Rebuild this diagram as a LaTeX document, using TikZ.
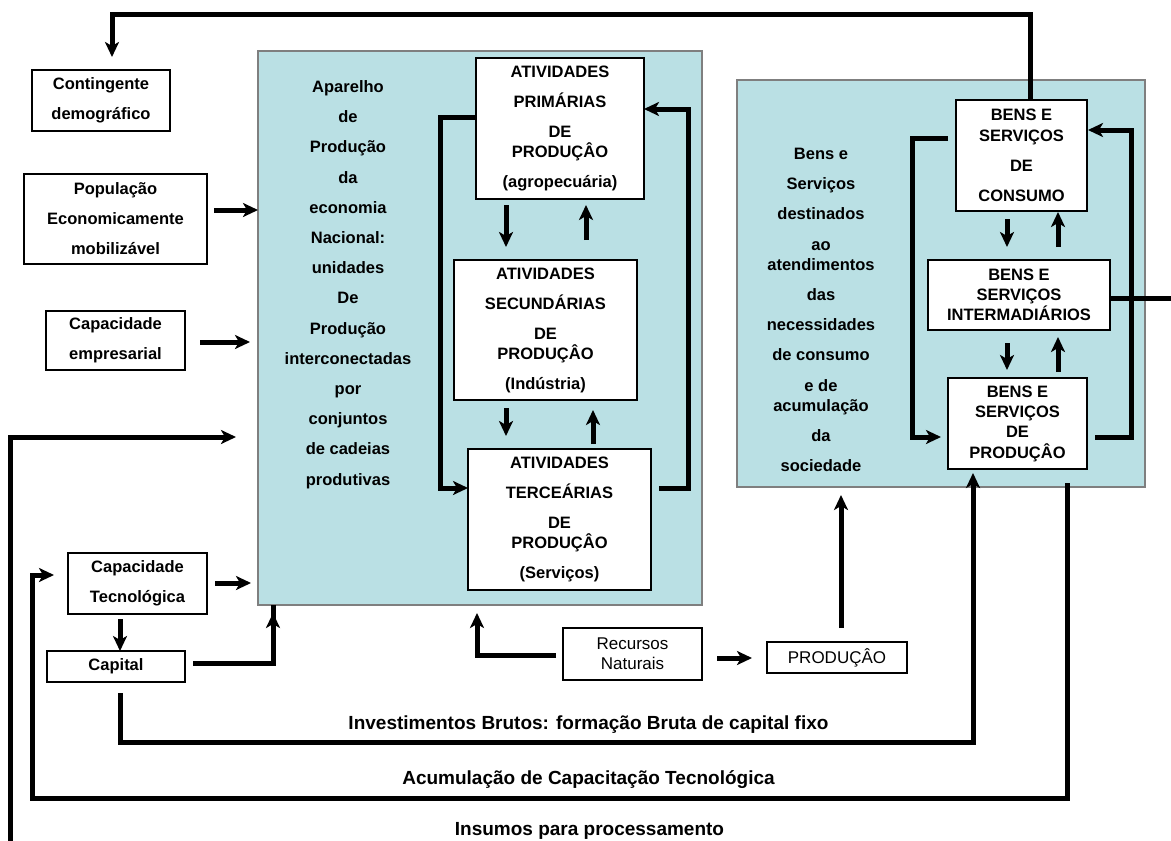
\documentclass[tikz,border=0pt]{standalone}
\usepackage{fontspec}
\setmainfont{Liberation Sans}
\usetikzlibrary{arrows.meta,calc}
\definecolor{panel}{HTML}{BAE0E4}
\definecolor{panelborder}{HTML}{7F7F7F}
\begin{document}
\begin{tikzpicture}[x=1pt,y=-1pt,
  box/.style={draw=black, line width=1.2pt, fill=white, inner sep=0pt, outer sep=0pt, align=center, font=\bfseries\fontsize{16.5}{30}\selectfont},
  tightbox/.style={box, font=\bfseries\fontsize{16.5}{20.3}\selectfont},
  regbox/.style={box, font=\fontsize{17}{20}\selectfont},
  panelbox/.style={draw=panelborder, line width=1.5pt, fill=panel, inner sep=0pt, outer sep=0pt},
  conn/.style={line width=5pt, -{Stealth[length=15pt,width=14pt,inset=4pt]}},
  thickline/.style={line width=5pt},
  paneltext/.style={align=center, inner sep=0pt, font=\bfseries\fontsize{16.5}{30.2}\selectfont},
  lbl/.style={font=\bfseries\fontsize{19}{23}\selectfont, anchor=base, inner sep=0pt}
]
\fill[white] (0,0) rectangle (1171,841);
\useasboundingbox (0,0) rectangle (1171,841);

% panels
\node[panelbox, minimum width=444pt, minimum height=554pt] (big1) at (480,328) {};
\node[panelbox, minimum width=408pt, minimum height=407pt] (big2) at (941,283.5) {};

% left boxes
\node[box, minimum width=138pt, minimum height=61pt] (contg) at (101,100.5) {Contingente\\demográfico};
\node[box, minimum width=183pt, minimum height=90pt] (popul) at (115.5,219) {População\\Economicamente\\mobilizável};
\node[box, minimum width=139pt, minimum height=59pt] (capemp) at (115.5,340.5) {Capacidade\\empresarial};
\node[box, minimum width=139pt, minimum height=61pt] (captec) at (137.5,583.5) {Capacidade\\Tecnológica};
\node[box, minimum width=138pt, minimum height=31pt] (capital) at (116,666.5) {Capital};

% panel 1 content
\node[paneltext] (aptext) at (348,284.5) {Aparelho\\de\\Produção\\da\\economia\\Nacional:\\unidades\\De\\Produção\\interconectadas\\por\\conjuntos\\de cadeias\\produtivas};
\node[box, minimum width=168pt, minimum height=141pt] (prim) at (560,128.5) {ATIVIDADES\\PRIMÁRIAS\\DE\\[-10pt]PRODUÇÂO\\(agropecuária)};
\node[box, minimum width=183pt, minimum height=140pt] (sec) at (545.5,330) {ATIVIDADES\\SECUNDÁRIAS\\DE\\[-10pt]PRODUÇÂO\\(Indústria)};
\node[box, minimum width=183pt, minimum height=141pt] (ter) at (559.5,519.5) {ATIVIDADES\\TERCEÁRIAS\\DE\\[-10pt]PRODUÇÂO\\(Serviços)};

% panel 2 content
\node[paneltext, font=\bfseries\fontsize{16.5}{30.2}\selectfont] (bstext) at (821,310) {Bens e\\Serviços\\destinados\\ao\\[-10pt]atendimentos\\das\\necessidades\\de consumo\\e de\\[-10pt]acumulação\\da\\sociedade};
\node[box, minimum width=131pt, minimum height=111pt] (cons) at (1021.5,155.5) {BENS E\\[-9pt]SERVIÇOS\\DE\\CONSUMO};
\node[tightbox, minimum width=182pt, minimum height=70pt] (inter) at (1019,295) {BENS E\\SERVIÇOS\\INTERMADIÁRIOS};
\node[tightbox, minimum width=139pt, minimum height=91pt] (prod) at (1017.5,423.5) {BENS E\\SERVIÇOS\\DE\\PRODUÇÂO};

% bottom boxes
\node[regbox, minimum width=139pt, minimum height=52pt] (recnat) at (632.5,654) {Recursos\\Naturais};
\node[regbox, minimum width=140pt, minimum height=31pt] (producao) at (837,657.5) {PRODUÇÂO};

% coordinates for free ends
\coordinate (topend) at (112,57);
\coordinate (insend) at (236,437);
\coordinate (insstart) at (10,841);
\coordinate (interend) at (1171,298);

% top feedback
\draw[conn] (cons.north -| 1030,0) |- (112,14) -- (topend);

% inputs to panel 1
\draw[conn] (214,210) -- (big1.west |- 0,210);
\draw[conn] (200,342) -- (250,342);
\draw[conn] (215,583) -- (251,583);
\draw[conn] (120,619) -- (capital.north -| 120,0);
\draw[conn] (193,663) -| (big1.south -| 273,0) ++(0,8);
\draw[conn] (556,655) -| (477,613);
\draw[conn] (717,658) -- (752,658);
\draw[conn] (producao.north -| 841,0) ++(0,-14) -- (841,495);
\draw[conn] (insstart) |- (insend);

% internal flows panel 1
\draw[conn] (506,205) -- (506,247);
\draw[conn] (586,240) -- (586,205);
\draw[conn] (506,408) -- (506,436);
\draw[conn] (593,444) -- (593,410);
\draw[conn] (prim.west |- 0,117) -| (440,488) -- (ter.west |- 0,488);
\draw[conn] (659,488) -| (688,109) -- (prim.east |- 0,109);

% internal flows panel 2
\draw[conn] (1007,219) -- (1007,247);
\draw[conn] (1058,247) -- (1058,212);
\draw[conn] (1007,343) -- (1007,370);
\draw[conn] (1058,372) -- (1058,337);
\draw[conn] (948,138) -| (912,437) -- (941,437);
\draw[conn] (1095,437) -| (1131,130) -- (1088,130);
\draw[thickline] (inter.east |- 0,298) -- (interend);

% long bottom loops
\draw[conn] (120,693) |- (973,742) -- (973,473);
\draw[conn] (1067,483) |- (32,798) |- (54,575);

% labels
\node[lbl] (linv) at (588.5,729) {Investimentos Brutos: formação Bruta de capital fixo};
\node[lbl] (lacu) at (588.5,784) {Acumulação de Capacitação Tecnológica};
\node[lbl] (lins) at (589.5,835) {Insumos para processamento};
\end{tikzpicture}
\end{document}
